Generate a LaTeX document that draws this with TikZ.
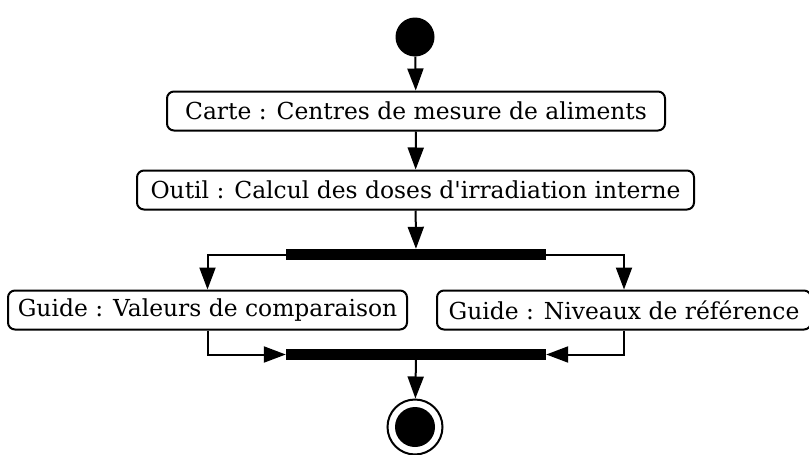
\documentclass[tikz,border=0pt]{standalone}
\usepackage{fontspec}
\setmainfont{DejaVu Serif}[Ligatures=TeXOff]
\usetikzlibrary{arrows.meta}
\begin{document}
\begin{tikzpicture}[x=1pt,y=-1pt,
  act/.style={draw,rounded corners=7pt,line width=2pt,minimum height=39pt,inner sep=0pt,font=\fontsize{23.4}{28}\selectfont},
  bar/.style={fill=black,minimum width=260pt,minimum height=11pt,inner sep=0pt},
  conn/.style={line width=2pt,-{Triangle[length=22pt,width=16pt]}}]
\useasboundingbox (0,0) rectangle (809,455);
\node[circle,fill=black,minimum size=39pt,inner sep=0pt] (start) at (415,37) {};
\node[act,minimum width=498pt] (carte) at (416,111) {Carte : Centres de mesure de aliments};
\node[act,minimum width=557pt] (outil) at (415.5,190) {Outil : Calcul des doses d'irradiation interne};
\node[bar] (fork) at (416,254.5) {};
\node[act,minimum width=399pt] (val) at (207.5,310) {Guide : Valeurs de comparaison};
\node[act,minimum width=374pt] (niv) at (624,310) {Guide : Niveaux de référence};
\node[bar] (join) at (416,354.5) {};
\node[circle,draw,line width=2pt,minimum size=55pt,inner sep=0pt] (endo) at (415,427) {};
\node[circle,fill=black,minimum size=40pt,inner sep=0pt] (endi) at (415,427) {};
\draw[conn] (start) -- (carte);
\draw[conn] (carte) -- (outil);
\draw[conn] (outil) -- (fork);
\draw[conn] (fork.west) -| (val.north);
\draw[conn] (fork.east) -| (niv.north);
\draw[conn] (val.south) |- (join.west);
\draw[conn] (niv.south) |- (join.east);
\draw[conn] (join) -- (endo);
\end{tikzpicture}
\end{document}
